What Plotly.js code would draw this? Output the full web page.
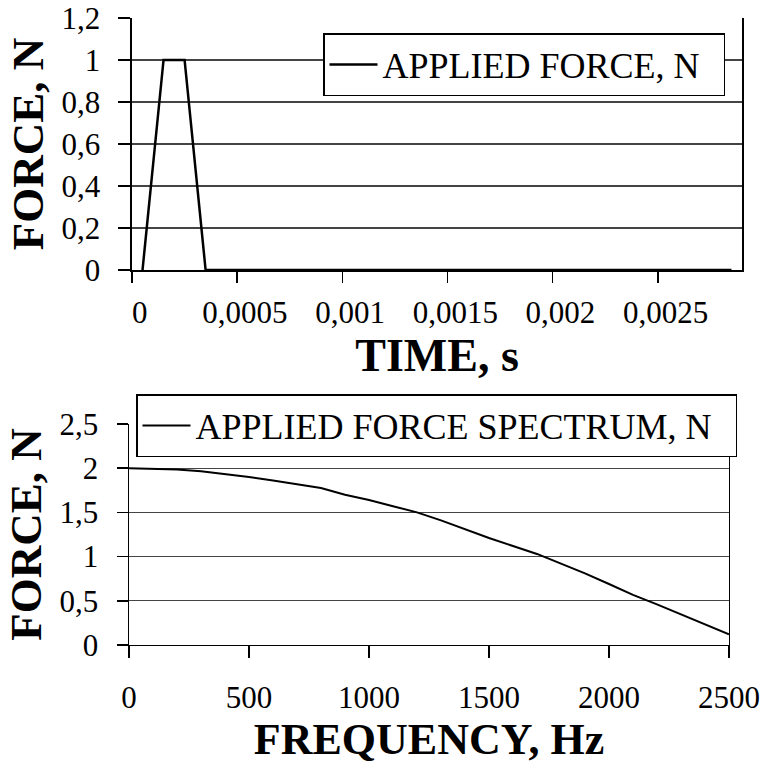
<!DOCTYPE html>
<html>
<head>
<meta charset="utf-8">
<script src="https://cdn.plot.ly/plotly-3.0.1.min.js"></script>
<style>
  html, body { margin: 0; padding: 0; background: #fff; }
  #chart { width: 763px; height: 768px; }
</style>
</head>
<body>
<div id="chart"></div>
<script>
// ---- data ----
const time = [0.00005, 0.00015, 0.00025, 0.00035, 0.00285];
const force = [0, 1, 1, 0, 0];

const freq = [0, 100, 200, 300, 400, 500, 600, 700, 800, 900, 1000, 1100, 1200,
              1300, 1400, 1500, 1600, 1700, 1800, 1900, 2000, 2100, 2200, 2300, 2400, 2500];
const spectrum = [2.00, 1.995, 1.985, 1.965, 1.935, 1.90, 1.86, 1.82, 1.775, 1.70, 1.64, 1.57, 1.50,
                  1.41, 1.31, 1.21, 1.12, 1.03, 0.92, 0.81, 0.69, 0.567, 0.46, 0.345, 0.23, 0.12];

const timeTicks = [0, 0.0005, 0.001, 0.0015, 0.002, 0.0025];
const timeTickText = ['0', '0,0005', '0,001', '0,0015', '0,002', '0,0025'];
const forceTicks = [0, 0.2, 0.4, 0.6, 0.8, 1, 1.2];
const forceTickText = ['0', '0,2', '0,4', '0,6', '0,8', '1', '1,2'];
const freqTicks = [0, 500, 1000, 1500, 2000, 2500];
const freqTickText = ['0', '500', '1000', '1500', '2000', '2500'];
const specTicks = [0, 0.5, 1, 1.5, 2, 2.5];
const specTickText = ['0', '0,5', '1', '1,5', '2', '2,5'];

const FONT = 'Liberation Serif, Times New Roman, serif';
const NB = '\u00A0\u00A0';

const traces = [
  {
    x: time, y: force, type: 'scatter', mode: 'lines',
    name: 'APPLIED FORCE, N' + NB,
    line: {color: '#000', width: 2.5},
    xaxis: 'x', yaxis: 'y', legend: 'legend'
  },
  {
    x: freq, y: spectrum, type: 'scatter', mode: 'lines',
    name: 'APPLIED FORCE SPECTRUM, N' + NB,
    line: {color: '#000', width: 2},
    xaxis: 'x2', yaxis: 'y2', legend: 'legend2'
  }
];

const axisCommon = {
  showline: true, linecolor: '#000', linewidth: 1.5,
  ticks: 'outside', tickcolor: '#000', tickwidth: 1.5,
  zeroline: false,
  tickfont: {family: FONT, size: 31, color: '#000'},
  tickmode: 'array'
};

const layout = {
  width: 763, height: 768,
  margin: {l: 0, r: 0, t: 0, b: 0},
  paper_bgcolor: '#fff', plot_bgcolor: '#fff',
  font: {family: FONT, color: '#000'},
  showlegend: true,
  xaxis: Object.assign({}, axisCommon, {
    domain: [0.1730, 0.9725], range: [0, 0.0029], anchor: 'y',
    showgrid: false, ticklen: 11,
    tickvals: timeTicks, ticktext: timeTickText.map(t => NB + t),
    ticklabelstandoff: 3,
    title: {text: '<b>TIME, s</b>', font: {family: FONT, size: 46, color: '#000'}, standoff: 4}
  }),
  yaxis: Object.assign({}, axisCommon, {
    domain: [0.6484, 0.9766], range: [0, 1.2], anchor: 'x',
    mirror: true, showgrid: true, gridcolor: '#444', gridwidth: 1.2, ticklen: 12,
    tickvals: forceTicks, ticktext: forceTickText,
    ticklabelstandoff: 12,
    title: {text: '<b>FORCE, N</b>', font: {family: FONT, size: 45, color: '#000'}, standoff: 4}
  }),
  xaxis2: Object.assign({}, axisCommon, {
    domain: [0.1691, 0.9554], range: [0, 2500], anchor: 'y2',
    showgrid: false, ticklen: 12,
    tickvals: freqTicks, ticktext: freqTickText,
    ticklabelstandoff: 12,
    title: {text: '<b>FREQUENCY, Hz</b>', font: {family: FONT, size: 44, color: '#000'}, standoff: 4}
  }),
  yaxis2: Object.assign({}, axisCommon, {
    domain: [0.1602, 0.4479], range: [0, 2.5], anchor: 'x2',
    mirror: true, showgrid: true, gridcolor: '#444', gridwidth: 1.2, ticklen: 11,
    tickvals: specTicks, ticktext: specTickText,
    ticklabelstandoff: 12,
    title: {text: '<b>FORCE, N</b>', font: {family: FONT, size: 45, color: '#000'}, standoff: 4}
  }),
  legend: {
    x: 323 / 763, y: 1 - 33 / 768, xanchor: 'left', yanchor: 'top',
    bgcolor: '#fff', bordercolor: '#000', borderwidth: 1.5,
    font: {family: FONT, size: 36, color: '#000'}, itemwidth: 48
  },
  legend2: {
    x: 136 / 763, y: 1 - 394 / 768, xanchor: 'left', yanchor: 'top',
    bgcolor: '#fff', bordercolor: '#000', borderwidth: 1.5,
    font: {family: FONT, size: 36, color: '#000'}, itemwidth: 48
  }
};

Plotly.newPlot('chart', traces, layout, {displayModeBar: false, staticPlot: true});
</script>
</body>
</html>
